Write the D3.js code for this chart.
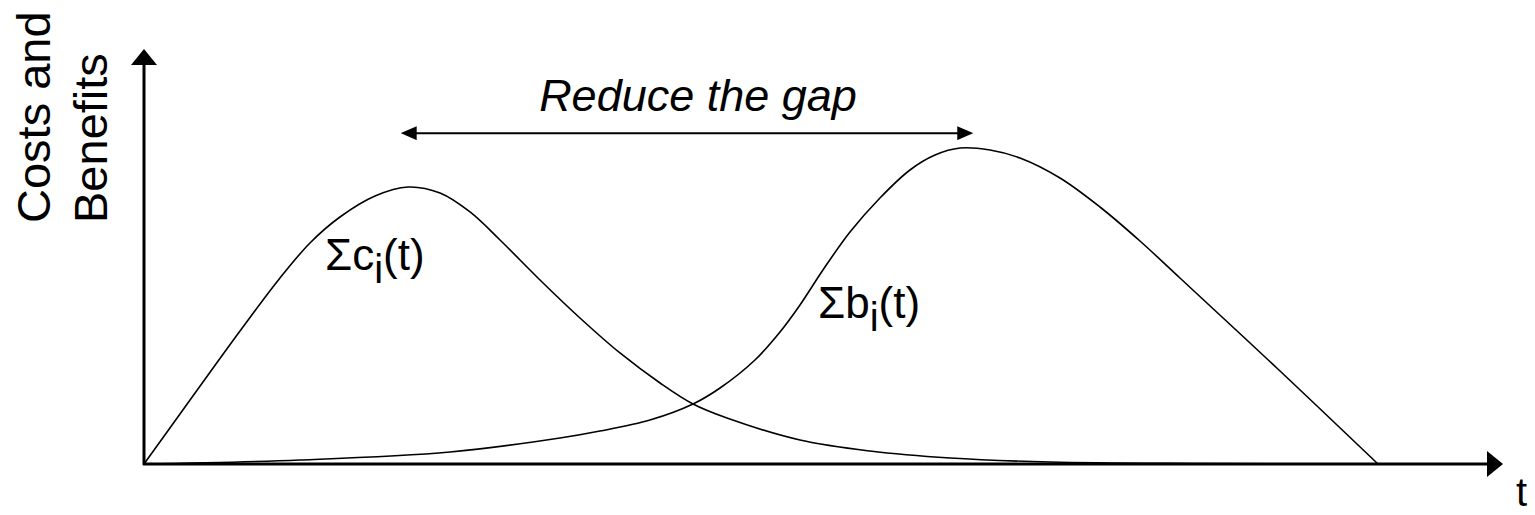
<!DOCTYPE html>
<html>
<head>
<meta charset="utf-8">
<script src="https://cdn.jsdelivr.net/npm/d3@7"></script>
<style>
  html, body { margin: 0; padding: 0; background: #fff; }
  svg { display: block; font-family: "Liberation Sans", Arial, sans-serif; }
</style>
</head>
<body>
<div id="chart"></div>
<script>
// Chart dimensions
const width = 1535;
const height = 515;

// Curve data (t: 0..100, value: 0..100)
const costT = [0, 3.73, 7.78, 11.02, 13.45, 15.88, 18.72, 21.39, 23.99, 26.42, 28.85, 32.09, 35.33, 38.57, 41.82, 44.49, 47.24, 53.16, 58.83, 65.32, 73.42, 85.58, 100];
const costV = [0, 20.25, 42.09, 58.86, 69.94, 78.16, 84.81, 87.66, 85.76, 79.75, 70.89, 58.23, 46.20, 35.13, 25.63, 18.99, 14.56, 7.59, 4.11, 1.90, 0.63, 0.16, 0];

const benefitT = [0, 12.64, 24.80, 33.71, 36.95, 41.00, 44.49, 46.68, 49.51, 51.54, 53.16, 55.02, 57.21, 59.64, 62.07, 64.10, 66.13, 68.56, 70.99, 74.23, 77.47, 80.71, 83.95, 92.06, 100];
const benefitV = [0, 1.27, 3.80, 8.23, 10.44, 13.92, 18.99, 24.05, 32.91, 41.77, 50.32, 61.39, 73.42, 84.18, 93.04, 97.78, 100, 99.37, 96.84, 90.51, 81.33, 70.57, 58.86, 29.43, 0];

// Gap arrow spans from cost peak to benefit peak (t values)
const gapT = [20.8, 67.2];
const gapV = 104.7;

// Scales
const x = d3.scaleLinear().domain([0, 100]).range([144, 1378]);
const y = d3.scaleLinear().domain([0, 100]).range([464, 148]);

const svg = d3.select("#chart")
    .append("svg")
    .attr("width", width)
    .attr("height", height)
    .attr("viewBox", [0, 0, width, height]);

// Arrowhead markers
const defs = svg.append("defs");
defs.append("marker")
    .attr("id", "axisArrow")
    .attr("viewBox", "0 0 16 26")
    .attr("refX", 0)
    .attr("refY", 13)
    .attr("markerWidth", 16)
    .attr("markerHeight", 26)
    .attr("markerUnits", "userSpaceOnUse")
    .attr("orient", "auto")
    .append("path")
    .attr("d", "M0,0L16,13L0,26Z")
    .attr("fill", "#000");

defs.append("marker")
    .attr("id", "gapArrow")
    .attr("viewBox", "0 0 16 14")
    .attr("refX", 1)
    .attr("refY", 7)
    .attr("markerWidth", 16)
    .attr("markerHeight", 14)
    .attr("markerUnits", "userSpaceOnUse")
    .attr("orient", "auto-start-reverse")
    .append("path")
    .attr("d", "M0,0L16,7L0,14Z")
    .attr("fill", "#000");

// Axes
svg.append("line")
    .attr("x1", x(0)).attr("y1", y(0) + 1)
    .attr("x2", x(0)).attr("y2", 65)
    .attr("stroke", "#000")
    .attr("stroke-width", 3)
    .attr("marker-end", "url(#axisArrow)");

svg.append("line")
    .attr("x1", x(0) - 1).attr("y1", y(0))
    .attr("x2", 1487).attr("y2", y(0))
    .attr("stroke", "#000")
    .attr("stroke-width", 3)
    .attr("marker-end", "url(#axisArrow)");

// Curves
const line = d3.line()
    .x(d => x(d[0]))
    .y(d => y(d[1]))
    .curve(d3.curveCatmullRom.alpha(0.5));

svg.append("path")
    .datum(d3.zip(costT, costV))
    .attr("d", line)
    .attr("fill", "none")
    .attr("stroke", "#000")
    .attr("stroke-width", 1.6);

svg.append("path")
    .datum(d3.zip(benefitT, benefitV))
    .attr("d", line)
    .attr("fill", "none")
    .attr("stroke", "#000")
    .attr("stroke-width", 1.6);

// Gap arrow
svg.append("line")
    .attr("x1", x(gapT[0]) + 15).attr("y1", y(gapV))
    .attr("x2", x(gapT[1]) - 15).attr("y2", y(gapV))
    .attr("stroke", "#000")
    .attr("stroke-width", 2)
    .attr("marker-start", "url(#gapArrow)")
    .attr("marker-end", "url(#gapArrow)");

svg.append("text")
    .attr("x", 698)
    .attr("y", 111)
    .attr("text-anchor", "middle")
    .attr("font-size", 45)
    .attr("font-style", "italic")
    .text("Reduce the gap");

// Y axis label
svg.append("text")
    .attr("transform", "translate(50,223) rotate(-90)")
    .attr("font-size", 47)
    .text("Costs and");

svg.append("text")
    .attr("transform", "translate(107,223) rotate(-90)")
    .attr("font-size", 47)
    .text("Benefits");

// X axis label
svg.append("text")
    .attr("x", 1516)
    .attr("y", 506)
    .attr("font-size", 40)
    .text("t");

// Curve labels
function sumLabel(px, py, letter) {
    const t = svg.append("text")
        .attr("x", px)
        .attr("y", py)
        .attr("font-size", 44);
    t.append("tspan").text("\u03A3" + letter);
    t.append("tspan").attr("font-size", 40).attr("dy", 13).text("i");
    t.append("tspan").attr("dy", -13).text("(t)");
}

sumLabel(325, 270, "c");
sumLabel(818, 318, "b");
</script>
</body>
</html>
